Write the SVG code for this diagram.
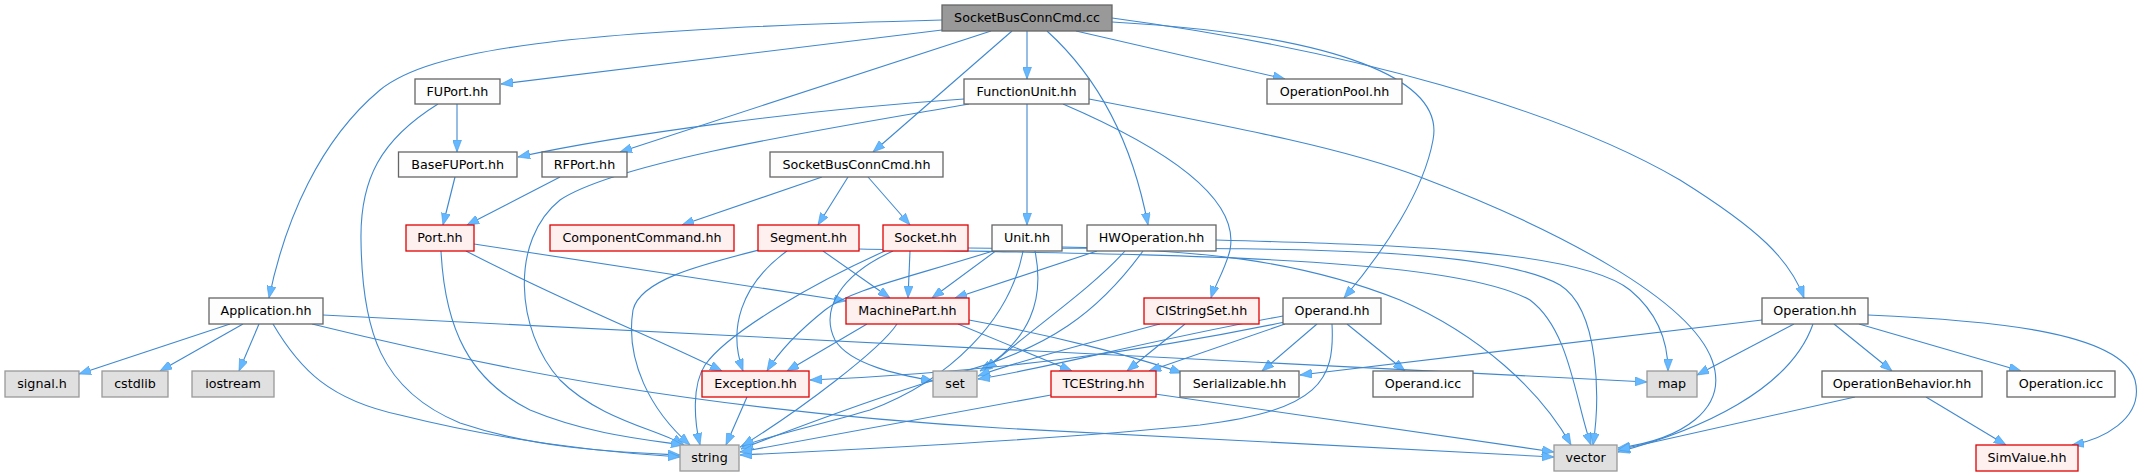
<svg xmlns="http://www.w3.org/2000/svg" width="2145" height="476" viewBox="0 0 2145 476">
<style>
rect{stroke-width:1.3}
.nrm rect{fill:#fcfdfc;stroke:#666666}
.red rect{fill:#fff0f0;stroke:#e00000}
.gry rect{fill:#e0e0e0;stroke:#999999}
.root rect{fill:#999999;stroke:#666666}
text{font-family:"DejaVu Sans","Liberation Sans",sans-serif;font-size:12.7px;fill:#000;text-anchor:middle}
#edges path{fill:none;stroke:#3f88cf;stroke-width:1.1}
</style>
<defs>
<marker id="ah" viewBox="0 0 12 9" refX="12" refY="4.5" markerWidth="12" markerHeight="9" markerUnits="userSpaceOnUse" orient="auto">
<path d="M0,0 L12,4.5 L0,9 z" fill="#63b8ff" stroke="#4a9ae0" stroke-width="0.6"/>
</marker>
</defs>
<rect width="2145" height="476" fill="#ffffff"/>
<g id="edges" marker-end="url(#ah)">
<path d="M942,20 C560,30 430,50 380,90 C320,140 285,220 269,298"/>
<path d="M942,30 L501,84"/>
<path d="M991,31 L620,152"/>
<path d="M1012,31 L873,152"/>
<path d="M1027,31 L1027,79"/>
<path d="M1047,31 C1090,70 1130,130 1148,225"/>
<path d="M1076,31 L1285,79"/>
<path d="M1112,22 C1340,35 1445,80 1433,140 C1424,190 1385,250 1344,298"/>
<path d="M1112,18 C1350,50 1560,110 1680,180 C1760,230 1790,260 1804,298"/>
<path d="M457,104 L457,152"/>
<path d="M438,104 C380,140 360,180 361,240 C362,330 380,390 460,423 C540,450 620,452 680,455"/>
<path d="M455,177 L443,225"/>
<path d="M560,177 L467,225"/>
<path d="M964,99 C800,110 620,135 518,157"/>
<path d="M969,104 C850,125 620,160 560,200 C510,240 515,330 560,380 C600,420 660,430 684,445"/>
<path d="M1027,104 L1027,225"/>
<path d="M1063,104 C1170,150 1240,200 1230,250 C1225,270 1215,285 1211,298"/>
<path d="M1089,99 C1250,130 1350,150 1420,177 C1560,230 1690,300 1712,360 C1730,410 1680,440 1618,448"/>
<path d="M822,177 L682,225"/>
<path d="M848,177 L818,225"/>
<path d="M868,177 L910,225"/>
<path d="M441,251 C445,330 470,380 530,410 C590,435 650,440 683,445"/>
<path d="M466,251 C560,300 660,340 722,371"/>
<path d="M474,244 L846,301"/>
<path d="M823,251 L890,298"/>
<path d="M787,251 C740,285 728,330 743,371"/>
<path d="M759,250 C700,265 640,280 633,310 C625,360 650,410 690,445"/>
<path d="M859,249 C1150,255 1450,255 1530,300 C1570,330 1575,400 1591,445"/>
<path d="M968,248 C1200,250 1480,240 1560,285 C1600,310 1600,400 1593,445"/>
<path d="M1062,247 C1200,250 1300,260 1400,300 C1480,335 1540,390 1571,445"/>
<path d="M1216,240 C1400,245 1580,250 1630,290 C1660,315 1668,345 1668,371"/>
<path d="M910,251 L908,298"/>
<path d="M893,251 C840,275 820,310 835,340 C850,365 900,375 933,381"/>
<path d="M885,251 C820,280 730,330 705,365 C692,385 694,420 700,445"/>
<path d="M997,250 L932,298"/>
<path d="M993,251 C900,280 850,290 825,310 C800,330 780,350 767,371"/>
<path d="M1035,251 C1045,300 1030,340 980,371"/>
<path d="M1023,251 C1010,320 950,380 870,410 C820,425 770,435 740,447"/>
<path d="M1097,251 L955,298"/>
<path d="M1125,251 C1090,290 1030,330 985,370"/>
<path d="M1143,251 C1100,310 1050,350 950,375 C870,400 790,430 741,449"/>
<path d="M867,324 L787,371"/>
<path d="M897,324 C880,350 800,410 742,446"/>
<path d="M958,324 L1072,371"/>
<path d="M969,320 C1050,335 1130,355 1182,373"/>
<path d="M747,397 L726,445"/>
<path d="M1160,324 C1100,340 1020,360 978,376"/>
<path d="M1185,324 L1127,371"/>
<path d="M1283,316 C1150,340 1040,370 978,379"/>
<path d="M1285,322 C1150,350 1000,372 810,380"/>
<path d="M1285,324 L1149,371"/>
<path d="M1317,324 L1262,371"/>
<path d="M1347,324 L1405,371"/>
<path d="M1332,324 C1335,380 1320,410 1200,425 C1050,440 850,450 740,455"/>
<path d="M1051,395 L740,452"/>
<path d="M1155,394 L1554,452"/>
<path d="M312,324 C500,370 700,410 1000,428 C1300,445 1450,452 1554,457"/>
<path d="M273,324 C300,370 330,400 400,415 C500,440 600,452 680,457"/>
<path d="M323,315 L1647,382"/>
<path d="M230,324 L79,374"/>
<path d="M243,324 L160,371"/>
<path d="M259,324 L239,371"/>
<path d="M1762,320 L1300,375"/>
<path d="M1794,324 L1697,375"/>
<path d="M1813,324 C1790,390 1700,430 1618,452"/>
<path d="M1834,324 L1892,371"/>
<path d="M1859,324 L2021,371"/>
<path d="M1868,315 C1980,320 2120,330 2135,380 C2145,420 2100,440 2072,445"/>
<path d="M1855,397 L1618,450"/>
<path d="M1926,397 L2006,445"/>
</g>
<g id="n-SocketBusConnCmd-cc" class="root"><rect x="942" y="5" width="170" height="26"/><text x="1027" y="22.4">SocketBusConnCmd.cc</text></g>
<g id="n-FUPort-hh" class="nrm"><rect x="415" y="79" width="85" height="25"/><text x="457.5" y="96.4">FUPort.hh</text></g>
<g id="n-FunctionUnit-hh" class="nrm"><rect x="964" y="79" width="125" height="25"/><text x="1026.5" y="96.4">FunctionUnit.hh</text></g>
<g id="n-OperationPool-hh" class="nrm"><rect x="1267" y="79" width="135" height="25"/><text x="1334.5" y="96.4">OperationPool.hh</text></g>
<g id="n-BaseFUPort-hh" class="nrm"><rect x="398.5" y="152" width="118.5" height="25"/><text x="457.7" y="169.4">BaseFUPort.hh</text></g>
<g id="n-RFPort-hh" class="nrm"><rect x="542" y="152" width="85" height="25"/><text x="584.5" y="169.4">RFPort.hh</text></g>
<g id="n-SocketBusConnCmd-hh" class="nrm"><rect x="770" y="152" width="173" height="25"/><text x="856.5" y="169.4">SocketBusConnCmd.hh</text></g>
<g id="n-Port-hh" class="red"><rect x="406" y="225" width="68" height="26"/><text x="440" y="242.4">Port.hh</text></g>
<g id="n-ComponentCommand-hh" class="red"><rect x="550" y="225" width="184" height="26"/><text x="642" y="242.4">ComponentCommand.hh</text></g>
<g id="n-Segment-hh" class="red"><rect x="758" y="225" width="101" height="26"/><text x="808.5" y="242.4">Segment.hh</text></g>
<g id="n-Socket-hh" class="red"><rect x="883" y="225" width="85" height="26"/><text x="925.5" y="242.4">Socket.hh</text></g>
<g id="n-Unit-hh" class="nrm"><rect x="992" y="225" width="70" height="26"/><text x="1027" y="242.4">Unit.hh</text></g>
<g id="n-HWOperation-hh" class="nrm"><rect x="1087" y="225" width="129" height="26"/><text x="1151.5" y="242.4">HWOperation.hh</text></g>
<g id="n-Application-hh" class="nrm"><rect x="209" y="298" width="114" height="26"/><text x="266" y="315.4">Application.hh</text></g>
<g id="n-MachinePart-hh" class="red"><rect x="846" y="298" width="123" height="26"/><text x="907.5" y="315.4">MachinePart.hh</text></g>
<g id="n-CIStringSet-hh" class="red"><rect x="1144" y="298" width="115" height="26"/><text x="1201.5" y="315.4">CIStringSet.hh</text></g>
<g id="n-Operand-hh" class="nrm"><rect x="1283" y="298" width="98" height="26"/><text x="1332" y="315.4">Operand.hh</text></g>
<g id="n-Operation-hh" class="nrm"><rect x="1762" y="298" width="106" height="26"/><text x="1815" y="315.4">Operation.hh</text></g>
<g id="n-signal-h" class="gry"><rect x="5" y="371" width="74" height="26"/><text x="42" y="388.4">signal.h</text></g>
<g id="n-cstdlib" class="gry"><rect x="102" y="371" width="66" height="26"/><text x="135" y="388.4">cstdlib</text></g>
<g id="n-iostream" class="gry"><rect x="192" y="371" width="82" height="26"/><text x="233" y="388.4">iostream</text></g>
<g id="n-Exception-hh" class="red"><rect x="702" y="371" width="107" height="26"/><text x="755.5" y="388.4">Exception.hh</text></g>
<g id="n-set" class="gry"><rect x="933" y="371" width="44" height="26"/><text x="955" y="388.4">set</text></g>
<g id="n-TCEString-hh" class="red"><rect x="1051" y="371" width="105" height="26"/><text x="1103.5" y="388.4">TCEString.hh</text></g>
<g id="n-Serializable-hh" class="nrm"><rect x="1180" y="371" width="119" height="26"/><text x="1239.5" y="388.4">Serializable.hh</text></g>
<g id="n-Operand-icc" class="nrm"><rect x="1373" y="371" width="100" height="26"/><text x="1423" y="388.4">Operand.icc</text></g>
<g id="n-map" class="gry"><rect x="1647" y="371" width="50" height="26"/><text x="1672" y="388.4">map</text></g>
<g id="n-OperationBehavior-hh" class="nrm"><rect x="1822" y="371" width="160" height="26"/><text x="1902" y="388.4">OperationBehavior.hh</text></g>
<g id="n-Operation-icc" class="nrm"><rect x="2007" y="371" width="108" height="26"/><text x="2061" y="388.4">Operation.icc</text></g>
<g id="n-string" class="gry"><rect x="680" y="445" width="59" height="26"/><text x="709.5" y="462.4">string</text></g>
<g id="n-vector" class="gry"><rect x="1554" y="445" width="63" height="26"/><text x="1585.5" y="462.4">vector</text></g>
<g id="n-SimValue-hh" class="red"><rect x="1976" y="445" width="102" height="26"/><text x="2027" y="462.4">SimValue.hh</text></g>
</svg>
